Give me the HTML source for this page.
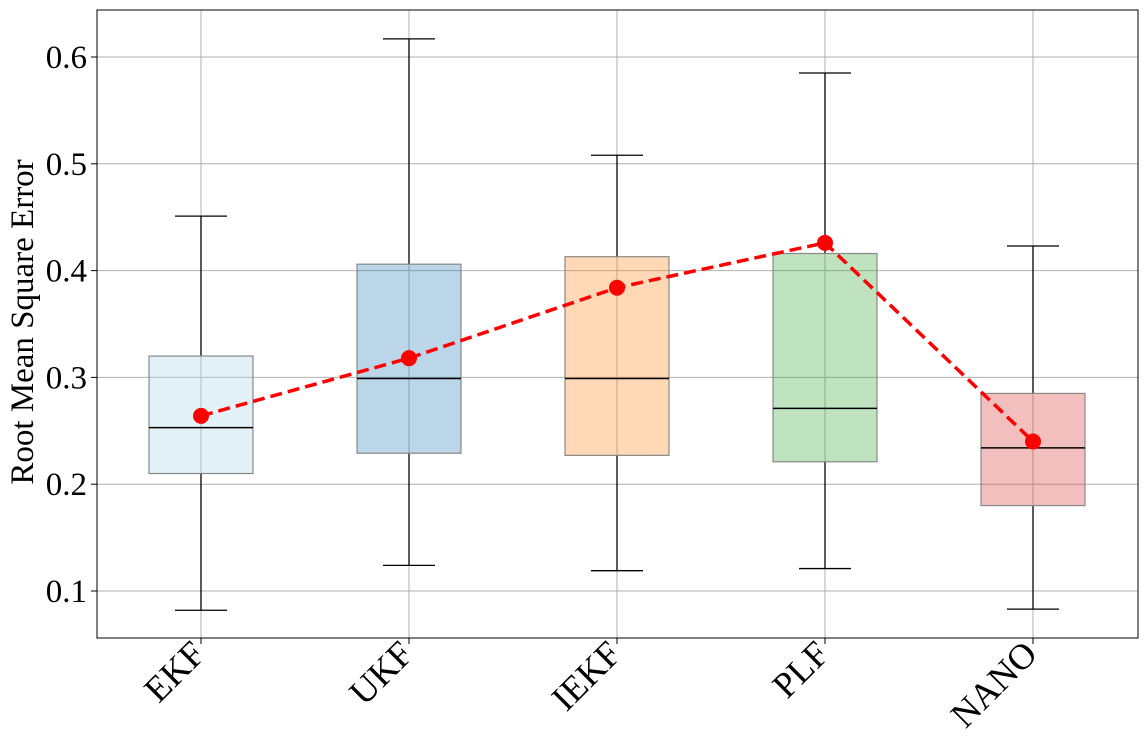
<!DOCTYPE html>
<html><head><meta charset="utf-8"><style>
body{margin:0;background:#fff;}
svg{display:block;font-family:"Liberation Serif","DejaVu Serif",serif;}
</style></head><body>
<svg id="chart" width="1148" height="748" viewBox="0 0 1148 748">
<g id="grid"></g><g id="boxes"></g><g id="meanline"></g><g id="axes"></g>
</svg>
<script>
const categories=["EKF","UKF","IEKF","PLF","NANO"];
const whiskerLow=[0.082,0.124,0.119,0.121,0.083];
const whiskerHigh=[0.451,0.617,0.508,0.585,0.423];
const q1=[0.210,0.229,0.227,0.221,0.180];
const q3=[0.320,0.406,0.413,0.416,0.285];
const medians=[0.253,0.299,0.299,0.271,0.234];
const means=[0.264,0.318,0.384,0.426,0.240];
const yTicks=[0.1,0.2,0.3,0.4,0.5,0.6];
const yTickLabels=["0.1","0.2","0.3","0.4","0.5","0.6"];

const NS="http://www.w3.org/2000/svg";
const L=97,R=1138,T=10,B=638;
const xFirst=201,xStep=208;
function xs(i){return xFirst+i*xStep;}
function ys(v){return 591-(v-0.1)*1068;}
function mk(p,tag,a,txt){const e=document.createElementNS(NS,tag);for(const k in a)e.setAttribute(k,a[k]);if(txt!==undefined)e.textContent=txt;p.appendChild(e);return e;}
const fills=[["#add8e6",0.35],["#1f77b4",0.3],["#ff7f0e",0.3],["#2ca02c",0.3],["#d62728",0.3]];
const grid=document.getElementById('grid'),boxes=document.getElementById('boxes'),ml=document.getElementById('meanline'),axes=document.getElementById('axes');

yTicks.forEach((v,i)=>{
 const g=mk(grid,'line',{x1:L,x2:R,y1:ys(v),y2:ys(v),stroke:'#b0b0b0','stroke-width':1});
 
 
 const t=mk(axes,'line',{x1:L-6,x2:L,y1:ys(v),y2:ys(v),stroke:'#000','stroke-width':1});
 
 
 const lb=mk(axes,'text',{x:L-10,y:ys(v)+11,'text-anchor':'end','font-size':33},yTickLabels[i]);
 
 
});
categories.forEach((c,i)=>{
 const x=xs(i);
 const g=mk(grid,'line',{x1:x,x2:x,y1:T,y2:B,stroke:'#b0b0b0','stroke-width':1});
 
 
 const grp=mk(boxes,'g',{});
 
 
 mk(grp,'line',{x1:x,x2:x,y1:ys(whiskerHigh[i]),y2:ys(q3[i]),stroke:'#000','stroke-width':1.3});
 mk(grp,'line',{x1:x,x2:x,y1:ys(q1[i]),y2:ys(whiskerLow[i]),stroke:'#000','stroke-width':1.3});
 mk(grp,'line',{x1:x-26,x2:x+26,y1:ys(whiskerHigh[i]),y2:ys(whiskerHigh[i]),stroke:'#000','stroke-width':1.3});
 mk(grp,'line',{x1:x-26,x2:x+26,y1:ys(whiskerLow[i]),y2:ys(whiskerLow[i]),stroke:'#000','stroke-width':1.3});
 mk(grp,'rect',{x:x-52,y:ys(q3[i]),width:104,height:ys(q1[i])-ys(q3[i]),fill:fills[i][0],'fill-opacity':fills[i][1],stroke:'#888','stroke-width':1.2});
 mk(grp,'line',{x1:x-52,x2:x+52,y1:ys(medians[i]),y2:ys(medians[i]),stroke:'#000','stroke-width':1.5});
 const t=mk(axes,'line',{x1:x,x2:x,y1:B,y2:B+6,stroke:'#000','stroke-width':1});
 
 
 const lb=mk(axes,'text',{x:x+6,y:B+18,'text-anchor':'end','font-size':36,transform:`rotate(-45 ${x+6} ${B+18})`},c);
 
 
});
const pts=means.map((v,i)=>xs(i)+','+ys(v)).join(' ');
const pl=mk(ml,'polyline',{points:pts,fill:'none',stroke:'#ff0000','stroke-width':3.5,'stroke-dasharray':'12,6'});


means.forEach((v,i)=>{
 const c=mk(ml,'circle',{cx:xs(i),cy:ys(v),r:8,fill:'#ff0000'});
 
 
});
const fr=mk(axes,'rect',{x:L,y:T,width:R-L,height:B-T,fill:'none',stroke:'#000','stroke-width':1});


const yl=mk(axes,'text',{x:33,y:322,'text-anchor':'middle','font-size':33,transform:'rotate(-90 33 322)'},'Root Mean Square Error');


</script>
</body></html>
